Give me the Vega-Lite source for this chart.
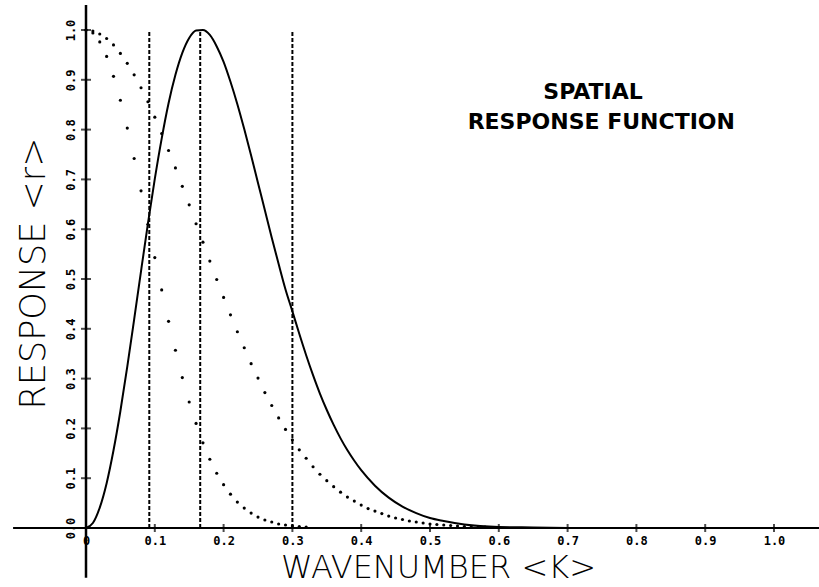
{
  "$schema": "https://vega.github.io/schema/vega-lite/v6.json",
  "width": 688,
  "height": 498,
  "autosize": "none",
  "padding": {"left": 86, "top": 30, "right": 45, "bottom": 59},
  "background": "white",
  "config": {"view": {"stroke": null}},
  "datasets": {
    "solid": [
      {"k": 0.00, "r": 0.000}, {"k": 0.01, "r": 0.010}, {"k": 0.02, "r": 0.041}, {"k": 0.03, "r": 0.090},
      {"k": 0.04, "r": 0.156}, {"k": 0.05, "r": 0.235}, {"k": 0.06, "r": 0.324}, {"k": 0.07, "r": 0.419},
      {"k": 0.08, "r": 0.516}, {"k": 0.09, "r": 0.611}, {"k": 0.10, "r": 0.701}, {"k": 0.11, "r": 0.782},
      {"k": 0.12, "r": 0.853}, {"k": 0.13, "r": 0.910}, {"k": 0.14, "r": 0.954}, {"k": 0.15, "r": 0.984},
      {"k": 0.16, "r": 0.999}, {"k": 0.17, "r": 1.000}, {"k": 0.18, "r": 0.990}, {"k": 0.19, "r": 0.967},
      {"k": 0.20, "r": 0.936}, {"k": 0.21, "r": 0.896}, {"k": 0.22, "r": 0.851}, {"k": 0.23, "r": 0.801},
      {"k": 0.24, "r": 0.748}, {"k": 0.25, "r": 0.693}, {"k": 0.26, "r": 0.638}, {"k": 0.27, "r": 0.583},
      {"k": 0.28, "r": 0.530}, {"k": 0.29, "r": 0.479}, {"k": 0.30, "r": 0.435}, {"k": 0.31, "r": 0.390},
      {"k": 0.32, "r": 0.347}, {"k": 0.33, "r": 0.307}, {"k": 0.34, "r": 0.270}, {"k": 0.35, "r": 0.237},
      {"k": 0.36, "r": 0.207}, {"k": 0.37, "r": 0.180}, {"k": 0.38, "r": 0.156}, {"k": 0.39, "r": 0.135},
      {"k": 0.40, "r": 0.116}, {"k": 0.42, "r": 0.085}, {"k": 0.44, "r": 0.061}, {"k": 0.46, "r": 0.043},
      {"k": 0.48, "r": 0.030}, {"k": 0.50, "r": 0.020}, {"k": 0.52, "r": 0.014}, {"k": 0.55, "r": 0.007},
      {"k": 0.60, "r": 0.002}, {"k": 0.65, "r": 0.001}, {"k": 0.70, "r": 0.000}
    ],
    "dots": [
      {"s": "A", "k": 0.00, "r": 1.000}, {"s": "A", "k": 0.01, "r": 0.994}, {"s": "A", "k": 0.02, "r": 0.976},
      {"s": "A", "k": 0.03, "r": 0.947}, {"s": "A", "k": 0.04, "r": 0.907}, {"s": "A", "k": 0.05, "r": 0.859},
      {"s": "A", "k": 0.06, "r": 0.803}, {"s": "A", "k": 0.07, "r": 0.742}, {"s": "A", "k": 0.08, "r": 0.677},
      {"s": "A", "k": 0.09, "r": 0.610}, {"s": "A", "k": 0.10, "r": 0.543}, {"s": "A", "k": 0.11, "r": 0.478},
      {"s": "A", "k": 0.12, "r": 0.415}, {"s": "A", "k": 0.13, "r": 0.357}, {"s": "A", "k": 0.14, "r": 0.302},
      {"s": "A", "k": 0.15, "r": 0.253}, {"s": "A", "k": 0.16, "r": 0.210}, {"s": "A", "k": 0.17, "r": 0.171},
      {"s": "A", "k": 0.18, "r": 0.138}, {"s": "A", "k": 0.19, "r": 0.110}, {"s": "A", "k": 0.20, "r": 0.087},
      {"s": "A", "k": 0.21, "r": 0.068}, {"s": "A", "k": 0.22, "r": 0.052}, {"s": "A", "k": 0.23, "r": 0.040},
      {"s": "A", "k": 0.24, "r": 0.030}, {"s": "A", "k": 0.25, "r": 0.022}, {"s": "A", "k": 0.26, "r": 0.016},
      {"s": "A", "k": 0.27, "r": 0.012}, {"s": "A", "k": 0.28, "r": 0.008}, {"s": "A", "k": 0.29, "r": 0.006},
      {"s": "A", "k": 0.30, "r": 0.004}, {"s": "A", "k": 0.31, "r": 0.003}, {"s": "A", "k": 0.32, "r": 0.002},
      {"s": "B", "k": 0.00, "r": 1.000}, {"s": "B", "k": 0.01, "r": 0.998}, {"s": "B", "k": 0.02, "r": 0.992},
      {"s": "B", "k": 0.03, "r": 0.983}, {"s": "B", "k": 0.04, "r": 0.970}, {"s": "B", "k": 0.05, "r": 0.953},
      {"s": "B", "k": 0.06, "r": 0.933}, {"s": "B", "k": 0.07, "r": 0.910}, {"s": "B", "k": 0.08, "r": 0.884},
      {"s": "B", "k": 0.09, "r": 0.856}, {"s": "B", "k": 0.10, "r": 0.825}, {"s": "B", "k": 0.11, "r": 0.792},
      {"s": "B", "k": 0.12, "r": 0.758}, {"s": "B", "k": 0.13, "r": 0.723}, {"s": "B", "k": 0.14, "r": 0.686},
      {"s": "B", "k": 0.15, "r": 0.649}, {"s": "B", "k": 0.16, "r": 0.611}, {"s": "B", "k": 0.17, "r": 0.574},
      {"s": "B", "k": 0.18, "r": 0.536}, {"s": "B", "k": 0.19, "r": 0.499}, {"s": "B", "k": 0.20, "r": 0.463},
      {"s": "B", "k": 0.21, "r": 0.428}, {"s": "B", "k": 0.22, "r": 0.394}, {"s": "B", "k": 0.23, "r": 0.362},
      {"s": "B", "k": 0.24, "r": 0.330}, {"s": "B", "k": 0.25, "r": 0.301}, {"s": "B", "k": 0.26, "r": 0.272},
      {"s": "B", "k": 0.27, "r": 0.246}, {"s": "B", "k": 0.28, "r": 0.221}, {"s": "B", "k": 0.29, "r": 0.198},
      {"s": "B", "k": 0.30, "r": 0.177}, {"s": "B", "k": 0.31, "r": 0.157}, {"s": "B", "k": 0.32, "r": 0.140},
      {"s": "B", "k": 0.33, "r": 0.123}, {"s": "B", "k": 0.34, "r": 0.108}, {"s": "B", "k": 0.35, "r": 0.095},
      {"s": "B", "k": 0.36, "r": 0.083}, {"s": "B", "k": 0.37, "r": 0.072}, {"s": "B", "k": 0.38, "r": 0.062},
      {"s": "B", "k": 0.39, "r": 0.054}, {"s": "B", "k": 0.40, "r": 0.046}, {"s": "B", "k": 0.41, "r": 0.039},
      {"s": "B", "k": 0.42, "r": 0.034}, {"s": "B", "k": 0.43, "r": 0.029}, {"s": "B", "k": 0.44, "r": 0.024},
      {"s": "B", "k": 0.45, "r": 0.020}, {"s": "B", "k": 0.46, "r": 0.017}, {"s": "B", "k": 0.47, "r": 0.014},
      {"s": "B", "k": 0.48, "r": 0.012}, {"s": "B", "k": 0.49, "r": 0.010}, {"s": "B", "k": 0.50, "r": 0.008},
      {"s": "B", "k": 0.51, "r": 0.007}, {"s": "B", "k": 0.52, "r": 0.006}, {"s": "B", "k": 0.53, "r": 0.005},
      {"s": "B", "k": 0.54, "r": 0.004}, {"s": "B", "k": 0.55, "r": 0.003}, {"s": "B", "k": 0.56, "r": 0.002},
      {"s": "B", "k": 0.57, "r": 0.002}, {"s": "B", "k": 0.58, "r": 0.002}, {"s": "B", "k": 0.59, "r": 0.001},
      {"s": "B", "k": 0.60, "r": 0.001}
    ],
    "vlines": [{"k": 0.092}, {"k": 0.166}, {"k": 0.3}],
    "xticks": [
      {"k": 0.1}, {"k": 0.2}, {"k": 0.3}, {"k": 0.4}, {"k": 0.5},
      {"k": 0.6}, {"k": 0.7}, {"k": 0.8}, {"k": 0.9}, {"k": 1.0}
    ],
    "yticks": [
      {"r": 0.0}, {"r": 0.1}, {"r": 0.2}, {"r": 0.3}, {"r": 0.4}, {"r": 0.5},
      {"r": 0.6}, {"r": 0.7}, {"r": 0.8}, {"r": 0.9}, {"r": 1.0}
    ]
  },
  "layer": [
    {
      "data": {"name": "solid"},
      "mark": {"type": "line", "color": "#000000", "strokeWidth": 2, "interpolate": "monotone"},
      "encoding": {
        "x": {
          "field": "k",
          "type": "quantitative",
          "scale": {"domain": [0, 1], "nice": false, "zero": false},
          "axis": {
            "values": [0, 0.1, 0.2, 0.3, 0.4, 0.5, 0.6, 0.7, 0.8, 0.9, 1.0],
            "labelExpr": "datum.value == 0 ? '0' : format(datum.value, '.1f')",
            "grid": false,
            "domain": false,
            "ticks": false,
            "labelPadding": 7,
            "labelFlush": false,
            "labelOverlap": false,
            "labelFont": "DejaVu Sans Mono",
            "labelFontWeight": "bold",
            "labelFontSize": 12,
            "labelColor": "#000000",
            "title": "WAVENUMBER <K>",
            "titleFont": "DejaVu Sans",
            "titleFontSize": 32,
            "titleFontWeight": 200,
            "titleColor": "#000000",
            "titleX": 352,
            "titleY": 49,
            "titleAlign": "center",
            "titleBaseline": "alphabetic"
          }
        },
        "y": {
          "field": "r",
          "type": "quantitative",
          "scale": {"domain": [0, 1], "nice": false},
          "axis": {
            "values": [0, 0.1, 0.2, 0.3, 0.4, 0.5, 0.6, 0.7, 0.8, 0.9, 1.0],
            "format": ".1f",
            "grid": false,
            "domain": false,
            "ticks": false,
            "labelAngle": 270,
            "labelAlign": "center",
            "labelBaseline": "bottom",
            "labelPadding": 9,
            "labelFlush": false,
            "labelOverlap": false,
            "labelFont": "DejaVu Sans Mono",
            "labelFontWeight": "bold",
            "labelFontSize": 12,
            "labelColor": "#000000",
            "title": "RESPONSE <r>",
            "titleFont": "DejaVu Sans",
            "titleFontSize": 35,
            "titleFontWeight": 200,
            "titleColor": "#000000",
            "titleAngle": 270,
            "titleX": -53,
            "titleY": 243,
            "titleAlign": "center",
            "titleBaseline": "middle"
          }
        }
      }
    },
    {
      "data": {"name": "vlines"},
      "mark": {"type": "rule", "color": "#000000", "strokeWidth": 2, "strokeDash": [4, 2]},
      "encoding": {
        "x": {"field": "k", "type": "quantitative"},
        "y": {"datum": 0, "type": "quantitative"},
        "y2": {"datum": 1.0}
      }
    },
    {
      "data": {"name": "dots"},
      "mark": {"type": "circle", "color": "#000000", "size": 10, "opacity": 1},
      "encoding": {
        "x": {"field": "k", "type": "quantitative"},
        "y": {"field": "r", "type": "quantitative"}
      }
    },
    {
      "data": {"values": [{}]},
      "mark": {"type": "rule", "color": "#000000", "strokeWidth": 2},
      "encoding": {
        "x": {"datum": -0.106, "type": "quantitative"},
        "x2": {"datum": 1.07},
        "y": {"datum": 0, "type": "quantitative"}
      }
    },
    {
      "data": {"values": [{}]},
      "mark": {"type": "rule", "color": "#000000", "strokeWidth": 2.5},
      "encoding": {
        "x": {"datum": 0, "type": "quantitative"},
        "y": {"datum": -0.1, "type": "quantitative"},
        "y2": {"datum": 1.05}
      }
    },
    {
      "data": {"name": "xticks"},
      "mark": {"type": "tick", "orient": "vertical", "color": "#000000", "size": 8, "thickness": 2},
      "encoding": {
        "x": {"field": "k", "type": "quantitative"},
        "y": {"datum": 0, "type": "quantitative"}
      }
    },
    {
      "data": {"name": "yticks"},
      "mark": {"type": "tick", "orient": "horizontal", "color": "#000000", "size": 10, "thickness": 2},
      "encoding": {
        "x": {"datum": 0, "type": "quantitative"},
        "y": {"field": "r", "type": "quantitative"}
      }
    },
    {
      "data": {"values": [{}]},
      "mark": {"type": "text", "text": "SPATIAL", "font": "DejaVu Sans", "fontSize": 22, "fontWeight": "bold", "color": "#000000", "align": "center", "baseline": "middle"},
      "encoding": {
        "x": {"datum": 0.737, "type": "quantitative"},
        "y": {"datum": 0.876, "type": "quantitative"}
      }
    },
    {
      "data": {"values": [{}]},
      "mark": {"type": "text", "text": "RESPONSE FUNCTION", "font": "DejaVu Sans", "fontSize": 22, "fontWeight": "bold", "color": "#000000", "align": "center", "baseline": "middle"},
      "encoding": {
        "x": {"datum": 0.749, "type": "quantitative"},
        "y": {"datum": 0.815, "type": "quantitative"}
      }
    }
  ]
}
